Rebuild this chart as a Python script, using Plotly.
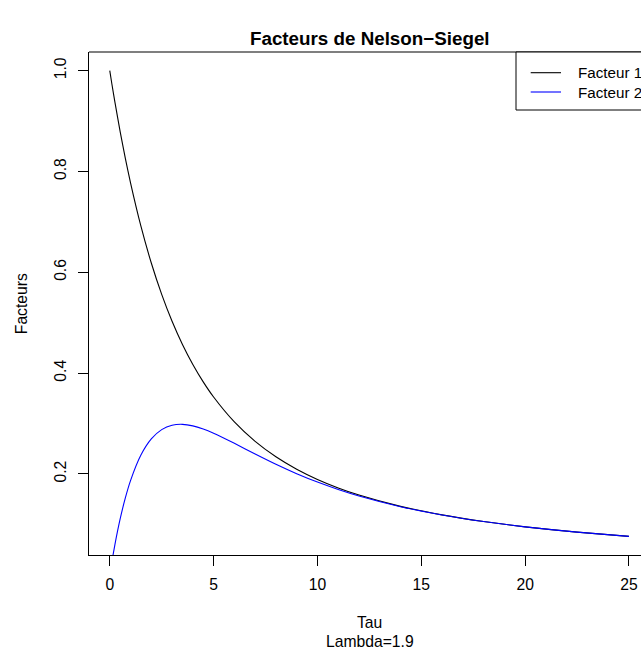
import plotly.graph_objects as go

# Maturities (tau) and the two Nelson-Siegel loadings, lambda = 1.9
tau = [0, 0.1, 0.25, 0.5, 0.75, 1, 1.5, 2, 2.5, 3, 3.5, 4, 4.5, 5, 6, 7, 8, 9,
       10, 11, 12, 14, 16, 18, 20, 22.5, 25]
facteur1 = [1.0, 0.97415, 0.93700, 0.87924, 0.82623, 0.77753, 0.69149, 0.61844,
            0.55612, 0.50275, 0.45682, 0.41714, 0.38269, 0.35265, 0.30320,
            0.26461, 0.23397, 0.20926, 0.18902, 0.17220, 0.15805, 0.13563,
            0.11872, 0.10555, 0.09500, 0.08444, 0.07600]
facteur2 = [0.0, 0.02542, 0.06029, 0.11062, 0.15237, 0.18675, 0.23740, 0.26942,
            0.28786, 0.29656, 0.29834, 0.29533, 0.28906, 0.28069, 0.26069,
            0.23949, 0.21913, 0.20049, 0.18384, 0.16914, 0.15624, 0.13500,
            0.11850, 0.10547, 0.09497, 0.08444, 0.07600]

series_names = ["Facteur 1", "Facteur 2"]
series_colors = ["#000000", "#0000FF"]

x_ticks = [0, 5, 10, 15, 20, 25]
y_ticks = [0.2, 0.4, 0.6, 0.8, 1.0]
y_ticktext = ["0.2", "0.4", "0.6", "0.8", "1.0"]

FONT = "Liberation Sans, Arial, sans-serif"
W, H = 641, 657
ML, MT, MB = 89, 52, 102
PW, PH = W - ML, H - MT - MB


def px(x):
    return (x - ML) / PW


def py(y):
    return (H - MB - y) / PH


fig = go.Figure()
for ys, name, col in zip([facteur1, facteur2], series_names, series_colors):
    fig.add_trace(go.Scatter(
        x=tau, y=ys, mode="lines", name=name,
        line=dict(color=col, width=1.1, shape="spline", smoothing=0.6),
        showlegend=False, hoverinfo="skip"))

shapes = [
    # top edge of the frame
    dict(type="line", xref="paper", yref="paper", x0=0, x1=1, y0=1, y1=1,
         line=dict(color="black", width=1.2)),
    # legend box
    dict(type="rect", xref="paper", yref="paper",
         x0=px(516), x1=px(660), y0=py(110), y1=1,
         line=dict(color="black", width=1), fillcolor="white", layer="above"),
]
annotations = []
for i, (name, col) in enumerate(zip(series_names, series_colors)):
    yy = py(72.7 + i * 19.3)
    shapes.append(dict(type="line", xref="paper", yref="paper",
                       x0=px(530.7), x1=px(561), y0=yy, y1=yy,
                       line=dict(color=col, width=1.1), layer="above"))
    annotations.append(dict(text=name, xref="paper", yref="paper", x=px(575.5), y=yy,
                            xanchor="left", yanchor="middle", showarrow=False,
                            font=dict(size=15.2, color="black", family=FONT)))

center_x = px((ML + 650) / 2)
annotations += [
    dict(text="<b>Facteurs de Nelson\u2212Siegel</b>", xref="paper", yref="paper",
         x=center_x, y=py(38), xanchor="center", yanchor="middle", showarrow=False,
         font=dict(size=18.8, color="black", family=FONT)),
    dict(text="Tau", xref="paper", yref="paper", x=center_x, y=py(622.7),
         xanchor="center", yanchor="middle", showarrow=False,
         font=dict(size=15.7, color="black", family=FONT)),
    dict(text="Lambda=1.9", xref="paper", yref="paper", x=center_x, y=py(641),
         xanchor="center", yanchor="middle", showarrow=False,
         font=dict(size=15.7, color="black", family=FONT)),
    dict(text="Facteurs", xref="paper", yref="paper", x=px(21.7), y=0.5,
         xanchor="center", yanchor="middle", showarrow=False, textangle=-90,
         font=dict(size=15.7, color="black", family=FONT)),
]

fig.update_layout(
    width=W, height=H,
    margin=dict(l=ML, r=0, t=MT, b=MB, pad=0),
    paper_bgcolor="white", plot_bgcolor="white",
    font=dict(family=FONT, size=15.7, color="black"),
    shapes=shapes, annotations=annotations,
    xaxis=dict(range=[-1, 25.58], tickvals=x_ticks, showgrid=False, zeroline=False,
               showline=True, linecolor="black", linewidth=1.2,
               ticks="outside", ticklen=9.5, tickcolor="black", tickwidth=1,
               ticklabelstandoff=6, tickfont=dict(size=15.7, family=FONT)),
    yaxis=dict(range=[0.0391, 1.0371], tickvals=y_ticks, ticktext=y_ticktext,
               showgrid=False, zeroline=False, showline=True, linecolor="black",
               linewidth=1.2, ticks="outside", ticklen=9.5, tickcolor="black",
               tickwidth=1, tickangle=-90, ticklabelstandoff=6,
               tickfont=dict(size=15.7, family=FONT)),
)

fig.write_html("out.html")
